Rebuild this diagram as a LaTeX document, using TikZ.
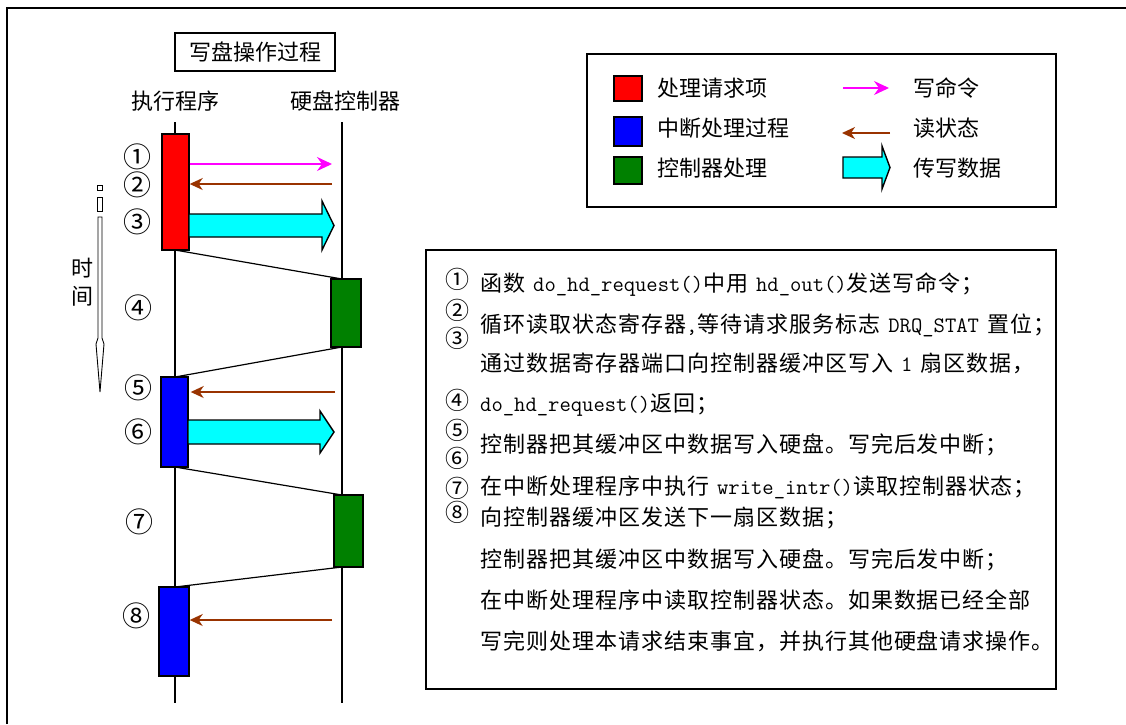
\documentclass[tikz,border=0pt]{standalone}
\usepackage{fontspec}
\setmainfont{Noto Sans CJK SC}
\newfontfamily\boxfont{Noto Sans CJK SC}[LetterSpace=4.5]
\usetikzlibrary{arrows.meta}
\definecolor{brn}{RGB}{153,51,0}
\definecolor{grn}{RGB}{0,128,0}
\definecolor{aqua}{RGB}{0,255,255}
\definecolor{pink}{RGB}{255,0,255}
\definecolor{pure red}{RGB}{255,0,0}
\definecolor{pure blue}{RGB}{0,0,255}
\newcommand\codetxt[1]{{\fontsize{22}{24}\selectfont\ttfamily #1}}
\newcommand\gap{\hspace{8pt}}
\begin{document}
\begin{tikzpicture}[x=1pt,y=-1pt,
  lbl/.style={font=\fontsize{22}{24}\selectfont, inner sep=0pt},
  num/.style={font=\fontsize{28}{30}\selectfont, inner sep=0pt},
  boxnum/.style={font=\fontsize{24}{26}\selectfont, inner sep=0pt},
  txtline/.style={anchor=west, font=\boxfont\fontsize{22}{24}\selectfont, inner sep=0pt},
  act/.style={draw=black, line width=1.4pt, inner sep=0pt},
  frame/.style={draw=black, line width=1.6pt},
  lifeline/.style={draw=black, line width=1.2pt},
  slant/.style={draw=black, line width=1.2pt},
  cmdarrow/.style={draw=pink, line width=1.5pt, -{Stealth[length=15pt,width=14pt,inset=5pt]}},
  statarrow/.style={draw=brn, line width=1.5pt, -{Stealth[length=13pt,width=12pt,inset=4pt]}},
  fat/.style={draw=black, fill=aqua, line width=1.4pt, line join=miter}
]
\useasboundingbox (0,0) rectangle (1126,724);
% outer frame
\draw[line width=2pt] (7,724) -- (7,8) -- (1126,8);

% title
\node[lbl, draw=black, line width=1.4pt, minimum width=160, minimum height=38] (title) at (255,52) {写盘操作过程};
\node[lbl] (exec) at (175,101) {执行程序};
\node[lbl] (ctrl) at (345,101) {硬盘控制器};

% lifelines
\coordinate (Lt) at (175,122); \coordinate (Lb) at (175,703);
\coordinate (Rt) at (342,122); \coordinate (Rb) at (342,703);
\draw[lifeline] (Lt) -- (Lb);
\draw[lifeline] (Rt) -- (Rb);

% slanted transfer lines
\coordinate (s1a) at (175,250); \coordinate (s1b) at (342,279);
\coordinate (s2a) at (342,347); \coordinate (s2b) at (175,377);
\coordinate (s3a) at (175,467); \coordinate (s3b) at (342,495);
\coordinate (s4a) at (342,567); \coordinate (s4b) at (175,587);
\draw[slant] (s1a) -- (s1b);
\draw[slant] (s2a) -- (s2b);
\draw[slant] (s3a) -- (s3b);
\draw[slant] (s4a) -- (s4b);

% activity boxes
\node[act, fill=pure red, minimum width=27, minimum height=116] (r1) at (175.5,192) {};
\node[act, fill=grn, minimum width=30, minimum height=68] (g1) at (346,313) {};
\node[act, fill=pure blue, minimum width=27, minimum height=90] (b1) at (174.5,422) {};
\node[act, fill=grn, minimum width=29, minimum height=72] (g2) at (348.5,531) {};
\node[act, fill=pure blue, minimum width=30, minimum height=89] (b2) at (174,631.5) {};

% messages
\coordinate (m1) at (332,164);
\draw[cmdarrow] (r1.east |- m1) -- (m1);
\coordinate (m2) at (332,184);
\draw[statarrow] (m2) -- (r1.east |- m2);
\draw[fat] (189,214) -- (322,214) -- (322,201) -- (334,225.5) -- (322,250) -- (322,237) -- (189,237) -- cycle;
\coordinate (m5) at (335,392);
\draw[statarrow] (m5) -- ([xshift=2pt]b1.east |- m5);
\draw[fat] (188,420) -- (320,420) -- (320,411) -- (334,432) -- (320,453) -- (320,444) -- (188,444) -- cycle;
\coordinate (m8) at (332,620);
\draw[statarrow] (m8) -- (b2.east |- m8);

% step numbers left
\node[num] (n1) at (137,157) {①};
\node[num] (n2) at (137,185) {②};
\node[num] (n3) at (137,222) {③};
\node[num] (n4) at (138,308) {④};
\node[num] (n5) at (138,388) {⑤};
\node[num] (n6) at (138,432) {⑥};
\node[num] (n7) at (139,522) {⑦};
\node[num] (n8) at (136,616) {⑧};

% time arrow
\draw[line width=0.9pt] (97.5,185) rectangle (102.5,190);
\draw[line width=0.9pt] (97.5,197) rectangle (102.5,211);
\draw[line width=0.9pt, fill=white] (98,217) -- (98,338) -- (96,344) -- (100,392) -- (104,344) -- (102,338) -- (102,217) -- cycle;
\node[lbl] (ti) at (82,268) {时};
\node[lbl] (tj) at (82,296) {间};

% legend
\node[frame, minimum width=469, minimum height=153, inner sep=0pt] (legend) at (821.5,130.5) {};
\node[act, fill=pure red, minimum width=28, minimum height=25] (lr) at (628,88.5) {};
\node[act, fill=pure blue, minimum width=28, minimum height=29] (lb) at (628,131.5) {};
\node[act, fill=grn, minimum width=28, minimum height=27] (lg) at (628,170.5) {};
\node[lbl, anchor=west] (ltr) at (657,88) {处理请求项};
\node[lbl, anchor=west] (ltb) at (657,128) {中断处理过程};
\node[lbl, anchor=west] (ltg) at (657,168) {控制器处理};
\coordinate (la1) at (843,88); \coordinate (la2) at (889,88);
\draw[cmdarrow] (la1) -- (la2);
\coordinate (lb1) at (890,133); \coordinate (lb2) at (842,133);
\draw[statarrow] (lb1) -- (lb2);
\draw[fat] (843,157) -- (882,157) -- (882,146) -- (890,167.5) -- (882,189) -- (882,178) -- (843,178) -- cycle;
\node[lbl, anchor=west] (lt1) at (913,88) {写命令};
\node[lbl, anchor=west] (lt2) at (913,128) {读状态};
\node[lbl, anchor=west] (lt3) at (913,168) {传写数据};

% description box
\node[frame, minimum width=630, minimum height=439, inner sep=0pt] (desc) at (741,469.5) {};
\node[boxnum] (d1) at (457,279) {①};
\node[boxnum] (d2) at (457,310) {②};
\node[boxnum] (d3) at (457,338) {③};
\node[boxnum] (d4) at (457,400) {④};
\node[boxnum] (d5) at (457,430) {⑤};
\node[boxnum] (d6) at (457,458) {⑥};
\node[boxnum] (d7) at (457,488) {⑦};
\node[boxnum] (d8) at (457,512) {⑧};
\node[txtline] (t1) at (480,285) {函数\gap\codetxt{do\_hd\_request()}中用\gap\codetxt{hd\_out()}发送写命令；};
\node[txtline] (t2) at (480,325) {循环读取状态寄存器\codetxt{,}等待请求服务标志\gap\codetxt{DRQ\_STAT}\gap 置位；};
\node[txtline] (t3) at (480,363) {通过数据寄存器端口向控制器缓冲区写入\gap\codetxt{1}\gap 扇区数据，};
\node[txtline] (t4) at (480,405) {\codetxt{do\_hd\_request()}返回；};
\node[txtline] (t5) at (480,445) {控制器把其缓冲区中数据写入硬盘。写完后发中断；};
\node[txtline] (t6) at (480,487) {在中断处理程序中执行\gap\codetxt{write\_intr()}读取控制器状态；};
\node[txtline] (t7) at (480,518) {向控制器缓冲区发送下一扇区数据；};
\node[txtline] (t8) at (480,560) {控制器把其缓冲区中数据写入硬盘。写完后发中断；};
\node[txtline] (t9) at (480,600) {在中断处理程序中读取控制器状态。如果数据已经全部};
\node[txtline] (t10) at (480,641) {写完则处理本请求结束事宜，并执行其他硬盘请求操作。};
\end{tikzpicture}
\end{document}
